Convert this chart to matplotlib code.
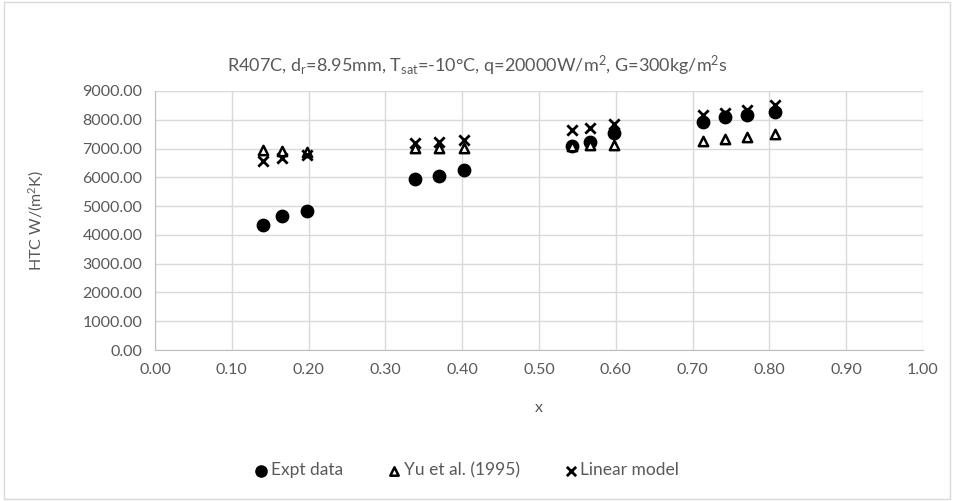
import numpy as np
import matplotlib.pyplot as plt
from matplotlib.patches import Rectangle

plt.rcParams['font.family'] = ['Lato', 'DejaVu Sans']
plt.rcParams['mathtext.fontset'] = 'custom'
plt.rcParams['mathtext.rm'] = 'Lato'
plt.rcParams['mathtext.it'] = 'Lato'

# vapour quality and heat transfer coefficients
x_q = [0.140, 0.166, 0.198, 0.339, 0.370, 0.402, 0.543, 0.566, 0.598, 0.713, 0.742, 0.771, 0.807]
htc_expt = [4340, 4660, 4820, 5940, 6060, 6260, 7090, 7240, 7530, 7930, 8110, 8170, 8280]
htc_yu = [6950, 6930, 6890, 7010, 7020, 7030, 7100, 7140, 7120, 7270, 7320, 7390, 7500]
htc_lin = [6570, 6680, 6780, 7180, 7230, 7310, 7640, 7720, 7840, 8160, 8250, 8340, 8510]

xticks = np.arange(0, 1.01, 0.1)
yticks = np.arange(0, 9001, 1000)

grey = '#595959'
fig = plt.figure(figsize=(9.54, 5.01), dpi=100)
fig.patches.append(Rectangle((0.004, 0.004), 0.992, 0.992, transform=fig.transFigure,
                             fill=False, edgecolor='#d9d9d9', lw=1))
ax = fig.add_axes([155/954, 1 - 350/501, (923 - 155)/954, (350 - 91)/501])

ax.scatter(x_q, htc_expt, marker='o', s=80, color='black', label='Expt data', zorder=3)
ax.scatter(x_q, htc_yu, marker='^', s=45, facecolor='white', edgecolor='black',
           linewidths=1.8, label='Yu et al. (1995)', zorder=4)
ax.scatter(x_q, htc_lin, marker='x', s=55, color='black', linewidths=2,
           label='Linear model', zorder=5)

ax.set_xlim(0, 1)
ax.set_ylim(0, 9000)
ax.set_xticks(xticks)
ax.set_yticks(yticks)
ax.set_xticklabels(['%.2f' % v for v in xticks])
ax.set_yticklabels(['%.2f' % v for v in yticks])
ax.tick_params(length=0, labelsize=11.5, labelcolor=grey, pad=9)
ax.grid(True, color='#d9d9d9', lw=1)
ax.set_axisbelow(True)
for s in ['top', 'right']:
    ax.spines[s].set_visible(False)
for s in ['left', 'bottom']:
    ax.spines[s].set_color('#bfbfbf')

ax.set_xlabel('x', fontsize=11.5, color=grey, labelpad=18)
ax.set_ylabel('HTC W/(m$^2$K)', fontsize=11.5, color=grey, labelpad=26)
fig.text(0.5, 1 - 66/501, 'R407C, d$_r$=8.95mm, T$_{sat}$=-10°C, q=20000W/m$^2$, G=300kg/m$^2$s',
         ha='center', va='center', fontsize=13, color=grey)

fig.legend(loc='center', bbox_to_anchor=(0.488, 1 - 470/501), ncol=3, frameon=False,
           fontsize=12.5, labelcolor=grey, handletextpad=0.0, columnspacing=2.4,
           handlelength=1.1, markerscale=0.9)

fig.savefig('out.png', dpi=100)
